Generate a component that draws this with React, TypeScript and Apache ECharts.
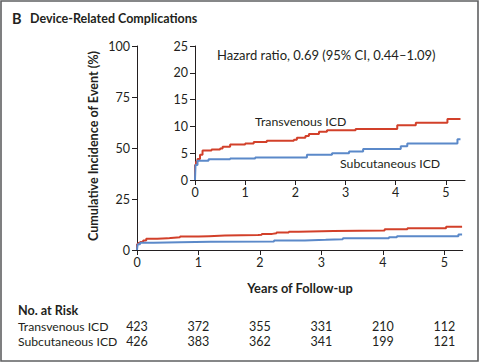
import React, { useEffect, useRef } from "react";
import * as echarts from "echarts";

const yearTicks = [0, 1, 2, 3, 4, 5];
const mainYTicks = [0, 25, 50, 75, 100];
const transvenousCurve: [number, number][] = [
  [0, 0], [0.0, 2.8], [0.02, 3.4], [0.05, 3.9], [0.1, 4.7], [0.15, 5.5], [0.33, 5.7],
  [0.5, 5.9], [0.55, 6.2], [0.7, 6.6], [1.0, 6.8], [1.17, 7.1], [1.43, 7.3],
  [1.97, 7.5], [2.03, 7.9], [2.2, 8.2], [2.27, 8.6], [2.47, 9.0], [2.63, 9.3],
  [3.2, 9.5], [4.03, 10.2], [4.4, 10.7], [5.03, 11.4], [5.29, 11.4],
];
const subcutaneousCurve: [number, number][] = [
  [0, 0], [0.01, 2.8], [0.05, 3.6], [0.27, 3.85], [0.7, 4.0], [1.2, 4.2],
  [2.23, 4.7], [2.73, 5.0], [3.07, 5.3], [3.35, 5.8], [4.1, 6.3], [4.23, 6.8],
  [5.23, 7.6], [5.29, 7.6],
];
const riskTransvenous = [423, 372, 355, 331, 210, 112];
const riskSubcutaneous = [426, 383, 362, 341, 199, 121];

const RED = "#d2402a";
const BLUE = "#5b89c9";
const INK = "#231f20";
const FONT = "Lato";

export default function App() {
  const ref = useRef<HTMLDivElement>(null);
  useEffect(() => {
    document.body.style.margin = "0";
    const chart = echarts.init(ref.current!, null, { renderer: "svg" });
    const axisCommon = {
      axisLine: { show: true, lineStyle: { color: INK, width: 1 } },
      axisTick: { show: true, length: 5, lineStyle: { color: INK, width: 1 } },
      splitLine: { show: false },
    };
    const label = (margin: number) => ({ fontFamily: FONT, fontSize: 12.5, color: INK, margin });
    const riskAxis = (grid: number, values: number[]) => ({
      type: "value", gridIndex: grid, min: 0, max: 5.3,
      axisLine: { show: false }, axisTick: { show: false }, splitLine: { show: false },
      axisLabel: {
        customValues: yearTicks, fontFamily: FONT, fontSize: 12.5, color: INK, margin: 0,
        verticalAlign: "middle",
        formatter: (v: number) => String(values[Math.round(v)]),
      },
    });
    const lineSeries = (name: string, data: [number, number][], color: string, idx: number) => ({
      type: "line", name, data, xAxisIndex: idx, yAxisIndex: idx, step: "end",
      showSymbol: false, symbol: "none", lineStyle: { color, width: 2 }, itemStyle: { color },
      clip: true,
    });
    chart.setOption({
      animation: false,
      backgroundColor: "#ffffff",
      grid: [
        { left: 137, top: 46, width: 325.7, height: 204 },
        { left: 195, top: 46, width: 270, height: 134 },
        { left: 137, top: 326, width: 325.7, height: 0 },
        { left: 137, top: 341, width: 325.7, height: 0 },
      ],
      xAxis: [
        { type: "value", gridIndex: 0, min: 0, max: 5.3, ...axisCommon,
          axisTick: { ...axisCommon.axisTick, customValues: yearTicks },
          axisLabel: { ...label(6), customValues: yearTicks } },
        { type: "value", gridIndex: 1, min: 0, max: 5.38, ...axisCommon,
          axisTick: { ...axisCommon.axisTick, customValues: yearTicks },
          axisLabel: { ...label(6), customValues: yearTicks } },
        riskAxis(2, riskTransvenous),
        riskAxis(3, riskSubcutaneous),
      ],
      yAxis: [
        { type: "value", gridIndex: 0, min: 0, max: 100, interval: 25, ...axisCommon,
          axisTick: { ...axisCommon.axisTick, customValues: mainYTicks },
          axisLabel: { ...label(7), customValues: mainYTicks } },
        { type: "value", gridIndex: 1, min: 0, max: 25, interval: 5, ...axisCommon,
          axisLabel: label(7) },
        { type: "value", gridIndex: 2, show: false },
        { type: "value", gridIndex: 3, show: false },
      ],
      series: [
        lineSeries("Transvenous ICD", transvenousCurve, RED, 0),
        lineSeries("Subcutaneous ICD", subcutaneousCurve, BLUE, 0),
        lineSeries("Transvenous ICD", transvenousCurve, RED, 1),
        lineSeries("Subcutaneous ICD", subcutaneousCurve, BLUE, 1),
      ],
      graphic: [
        { type: "rect", shape: { x: 1, y: 1, width: 477, height: 360 },
          style: { fill: "none", stroke: "#5f6062", lineWidth: 1.6 }, silent: true },
        { type: "text", x: 12, y: 18, style: { text: "B", fontFamily: FONT, fontWeight: "bold", fontSize: 14.5, fill: INK, verticalAlign: "middle" } },
        { type: "text", x: 30, y: 18, style: { text: "Device-Related Complications", fontFamily: FONT, fontWeight: "bold", fontSize: 12.5, fill: INK, verticalAlign: "middle" } },
        { type: "text", x: 217, y: 55, style: { text: "Hazard ratio, 0.69 (95% CI, 0.44–1.09)", fontFamily: FONT, fontSize: 13, fill: INK, verticalAlign: "middle" } },
        { type: "text", x: 255, y: 121, style: { text: "Transvenous ICD", fontFamily: FONT, fontSize: 12.3, fill: INK, verticalAlign: "middle" } },
        { type: "text", x: 340, y: 163, style: { text: "Subcutaneous ICD", fontFamily: FONT, fontSize: 12.3, fill: INK, verticalAlign: "middle" } },
        { type: "text", x: 93, y: 146, rotation: Math.PI / 2, style: { text: "Cumulative Incidence of Event (%)", fontFamily: FONT, fontWeight: "bold", fontSize: 12.6, fill: INK, align: "center", verticalAlign: "middle" } },
        { type: "text", x: 300, y: 288, style: { text: "Years of Follow-up", fontFamily: FONT, fontWeight: "bold", fontSize: 12.8, fill: INK, align: "center", verticalAlign: "middle" } },
        { type: "text", x: 18, y: 310, style: { text: "No. at Risk", fontFamily: FONT, fontWeight: "bold", fontSize: 12.6, fill: INK, verticalAlign: "middle" } },
        { type: "text", x: 18, y: 326, style: { text: "Transvenous ICD", fontFamily: FONT, fontSize: 12.2, fill: INK, verticalAlign: "middle" } },
        { type: "text", x: 18, y: 341, style: { text: "Subcutaneous ICD", fontFamily: FONT, fontSize: 12.2, fill: INK, verticalAlign: "middle" } },
      ],
    });
    return () => chart.dispose();
  }, []);
  return <div ref={ref} style={{ width: 480, height: 363 }} />;
}
